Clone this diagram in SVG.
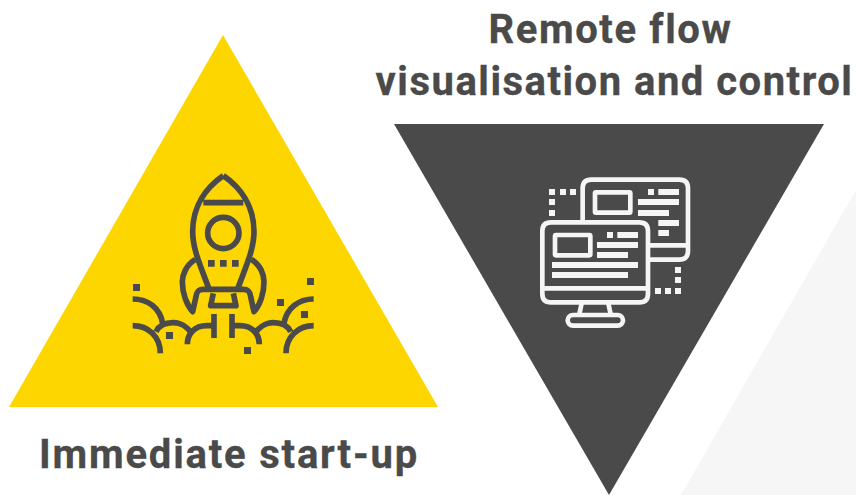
<svg xmlns="http://www.w3.org/2000/svg" width="856" height="495" viewBox="0 0 856 495">
<style>
.t{font-family:"Roboto","Liberation Sans",sans-serif;font-weight:700;font-size:40px;fill:#4a4a4a;text-anchor:middle;stroke:#4a4a4a;stroke-width:.3}
.r{fill:none;stroke:#4a4a4a;stroke-width:17;stroke-linejoin:round}
.rs{fill:#4a4a4a}
.m{fill:none;stroke:#f5f5f5;stroke-width:14;stroke-linejoin:round}
.ms{fill:#f5f5f5}
</style>
<rect width="856" height="495" fill="#fff"/>
<polygon points="681,495 856,190 856,495" fill="#f6f6f6"/>
<g id="start-up">
<polygon points="223,35 438,407 9,407" fill="#fdd600"/>
<g transform="translate(120,160) scale(.3333)">
<path class="r" d="M310 47C262 80 218 135 218 215C218 270 245 325 268 390M310 47C358 80 402 135 402 215C402 270 375 325 352 390M250 128H370"/>
<circle class="r" cx="310" cy="219" r="47"/>
<path class="rs" d="M264 300h20v20h-20zM300 300h20v20h-20zM336 300h20v20h-20z"/>
<path class="r" d="M226 298C198 315 187 345 187 365C187 400 200 435 218 455L228 410C230 395 235 388 250 388H370C385 388 390 395 392 410L402 455C420 435 432 400 432 365C432 345 422 315 394 298"/>
<path class="r" d="M280 400L272 437H348L340 400"/>
<path class="r" d="M38 417C85 417 120 445 128 490M38 497C85 497 121 530 121 580M108 515C120 490 145 488 160 488C185 488 205 505 215 520M202 553C202 520 225 497 260 497H282M282 462V534"/>
<path class="r" d="M581 417C535 417 500 445 492 490M581 497C535 497 498 530 498 580M512 515C500 490 475 488 460 488C435 488 415 505 405 520M418 553C418 520 395 497 360 497H336M336 462V534"/>
<path class="rs" d="M39 372h21v21h-21zM138 516h21v21h-21zM372 561h21v21h-21zM471 417h21v21h-21zM543 453h21v21h-21zM561 354h21v21h-21z"/>
</g>
</g>
<g id="remote">
<polygon points="394,124 824,124 609,495" fill="#4a4a4a"/>
<g transform="translate(530,165) scale(.3333)">
<path class="m" d="M158 165V70Q158 44 184 44H448Q474 44 474 70V258Q474 284 448 284H360M360 241H474"/>
<rect class="m" x="195" y="82" width="106" height="61" rx="3"/>
<path class="ms" d="M354 72h18v18h-18zM385 72h62v18h-62zM324 102h123v18h-123zM324 135h93v18h-93zM385 165h62v18h-62zM385 195h32v18h-32z"/>
<path class="m" d="M63 172H328Q354 172 354 198V386Q354 412 328 412H63Q37 412 37 386V198Q37 172 63 172ZM37 370H354"/>
<rect class="m" x="75" y="210" width="106" height="61" rx="3"/>
<path class="ms" d="M231 201h18v18h-18zM262 201h62v18h-62zM201 231h123v18h-123zM201 261h93v18h-93zM66 291h258v18h-258zM66 321h228v18h-228z"/>
<path class="m" d="M155 415L148 448M235 415L242 448"/>
<rect class="m" x="113" y="450" width="166" height="32" rx="16"/>
<path class="ms" d="M57 72h18v18h-18zM90 72h18v18h-18zM120 72h18v18h-18zM57 102h18v18h-18zM57 135h18v18h-18zM435 306h18v18h-18zM435 336h18v18h-18zM435 369h18v18h-18zM405 369h18v18h-18zM375 369h18v18h-18z"/>
</g>
</g>
<text class="t" x="610.500" y="43" letter-spacing="1.600">Remote flow</text>
<text class="t" x="614.500" y="95" letter-spacing="1.500">visualisation and control</text>
<text class="t" x="229" y="468" letter-spacing="1.800">Immediate start-up</text>
</svg>
